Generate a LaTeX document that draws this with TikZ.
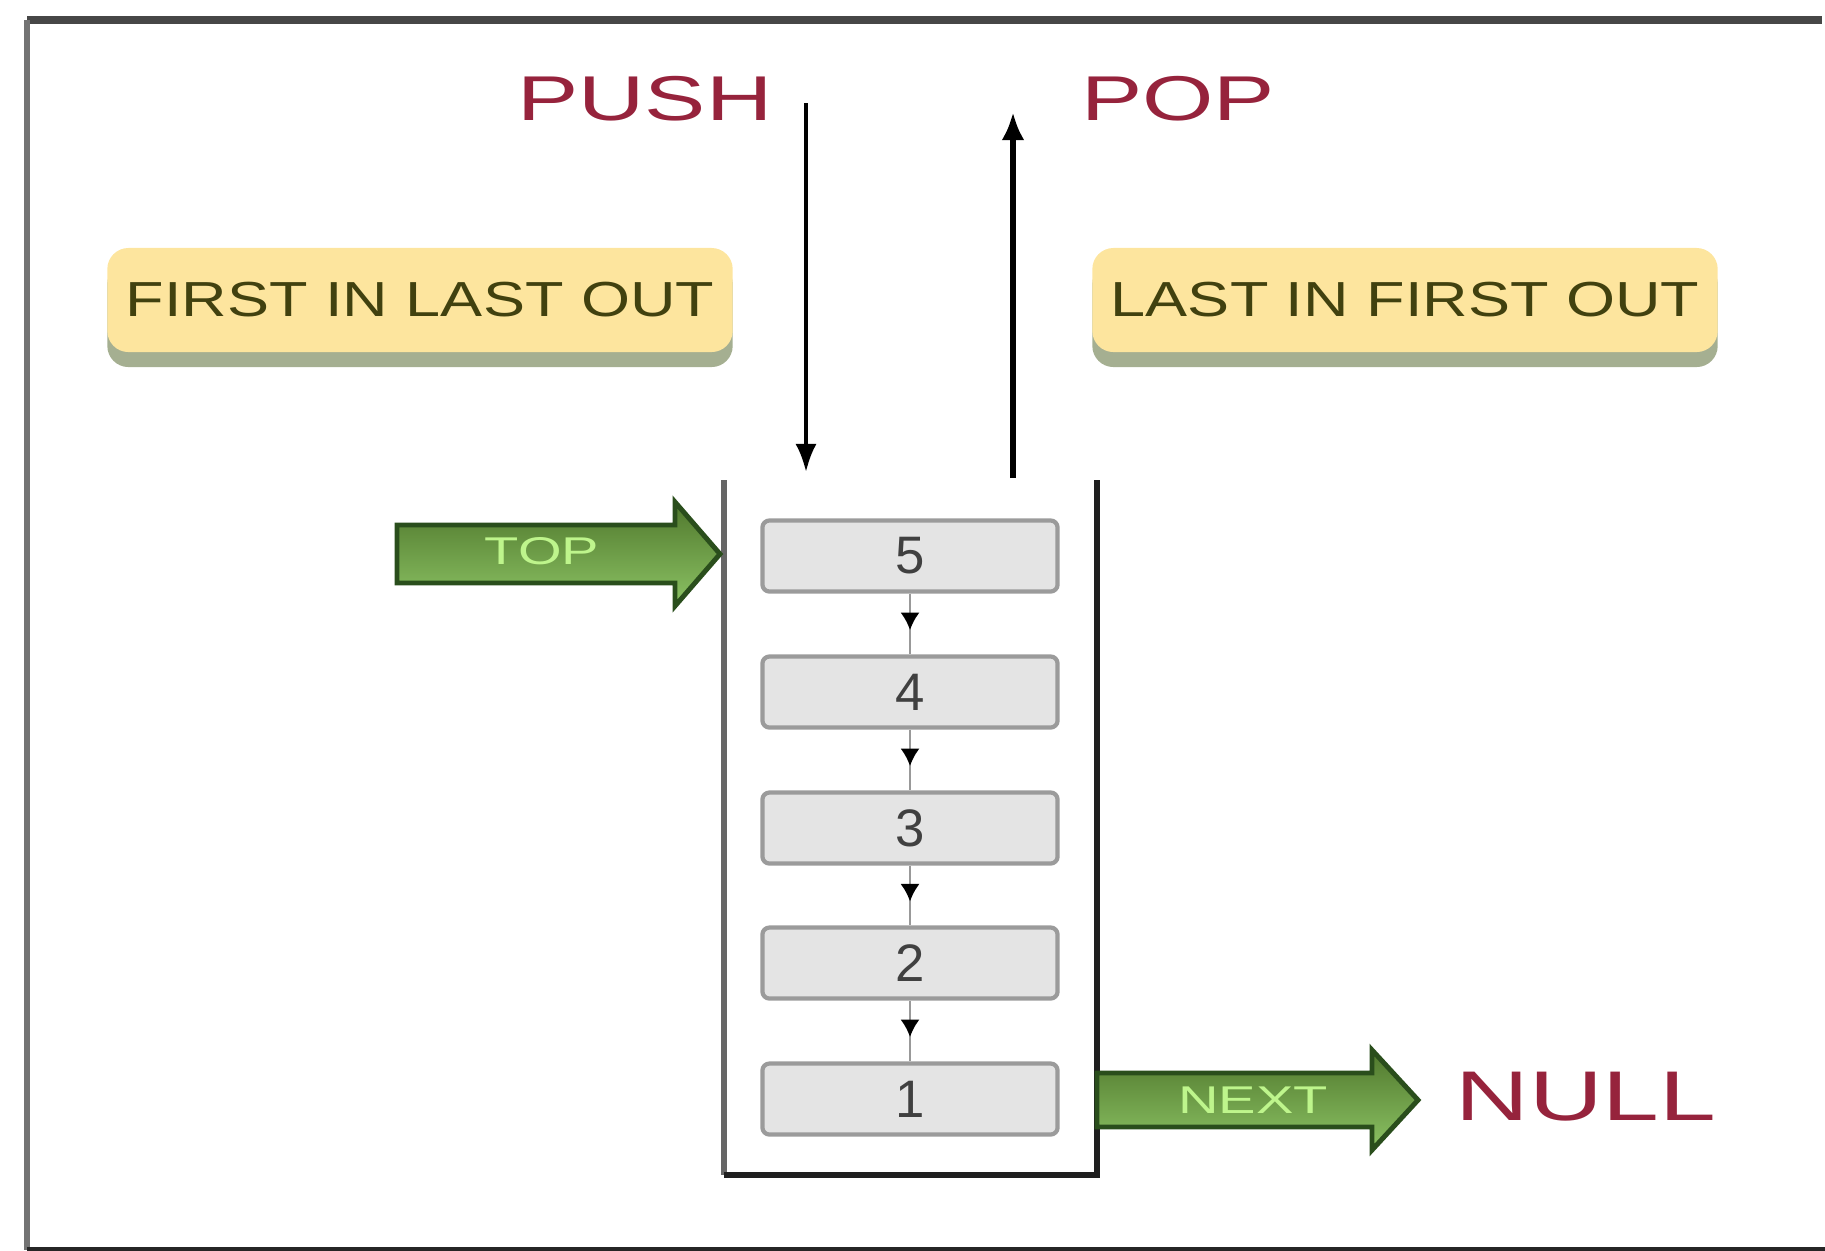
\documentclass[tikz,border=0pt]{standalone}
\usepackage{fontspec}
\setmainfont{Liberation Sans}
\newfontfamily\widefont[FakeStretch=1.45]{Liberation Sans}
\newfontfamily\notefont[FakeStretch=1.28]{Liberation Sans}
\usetikzlibrary{arrows.meta,shadows,decorations.markings}

\definecolor{opred}{RGB}{150,35,60}
\definecolor{notefill}{RGB}{253,229,158}
\definecolor{noteshade}{RGB}{165,175,145}
\definecolor{notetext}{RGB}{65,65,15}
\definecolor{cellfill}{RGB}{228,228,228}
\definecolor{cellline}{RGB}{155,155,155}
\definecolor{ptrdark}{RGB}{80,120,45}
\definecolor{ptrfill}{RGB}{118,182,66}
\definecolor{ptrlight}{RGB}{140,195,100}
\definecolor{ptrline}{RGB}{42,78,28}
\definecolor{ptrtext}{RGB}{190,245,140}

\tikzset{
  opname/.style={text=opred, font=\widefont\fontsize{18}{18}\selectfont, inner sep=0pt},
  note/.style={fill=notefill, rounded corners=6pt, minimum width=6.25cm, minimum height=1.04cm,
    text=notetext, font=\notefont\fontsize{14}{14}\selectfont,
    drop shadow={fill=noteshade, opacity=1, shadow xshift=0cm, shadow yshift=-0.15cm}},
  cell/.style={draw=cellline, fill=cellfill, line width=1.2pt, rounded corners=2pt,
    minimum width=2.95cm, minimum height=0.71cm, inner sep=0pt, text=black!75,
    font=\fontsize{15}{15}\selectfont},
  link/.style={draw=gray!80, line width=0.8pt, postaction={decorate},
    decoration={markings, mark=at position 0.6 with {\arrow{Latex[length=5pt,width=5.5pt,color=black]}}}},
  ptr/.style={top color=ptrdark, middle color=ptrfill, bottom color=ptrlight,
    draw=ptrline, line width=1.4pt, line join=miter},
  ptrlabel/.style={text=ptrtext, font=\widefont\fontsize{11}{11}\selectfont, inner sep=0pt},
}

\begin{document}
\begin{tikzpicture}[x=0.01cm, y=-0.01cm]
    \useasboundingbox (0,0) rectangle (1825,1250);

    % Frame
    \draw[line width=2pt, black!72] (27,20) -- (1822,20);
    \draw[line width=1.7pt, black!55] (27,20) -- (27,1250);
    \draw[line width=1pt, black!85] (27,1249) -- (1825,1249);

    % Nodes
    \node[opname] (push) at (645,99) {PUSH};
    \node[opname] (pop) at (1178,99) {POP};

    \node[note] (filo) at (420,300) {FIRST IN LAST OUT};
    \node[note] (lifo) at (1405,300) {LAST IN FIRST OUT};

    \node[cell] (c5) at (910,556) {5};
    \node[cell] (c4) at (910,692) {4};
    \node[cell] (c3) at (910,828) {3};
    \node[cell] (c2) at (910,963) {2};
    \node[cell] (c1) at (910,1099) {1};

    \coordinate (pushfrom) at (806,103);
    \coordinate (pushto) at (806,472);
    \coordinate (popfrom) at (1013,478);
    \coordinate (popto) at (1013,112);
    \coordinate (toptip) at (720,554);
    \coordinate (nexttip) at (1418,1100);

    % Stack walls
    \draw[line width=1.6pt, black!60] (724,480) -- (724,1175);
    \draw[line width=1.6pt, black!88] (724,1175) -- (1097,1175) -- (1097,480);

    % Lines
    \draw[line width=1.1pt, -{Latex[length=8pt,width=6pt]}] (pushfrom) -- (pushto);
    \draw[line width=1.6pt, -{Latex[length=8pt,width=6.5pt]}] (popfrom) -- (popto);

    \draw[link] (c5) -- (c4);
    \draw[link] (c4) -- (c3);
    \draw[link] (c3) -- (c2);
    \draw[link] (c2) -- (c1);

    % Pointers
    \draw[ptr] (toptip) -- ++(-45,-52) -- ++(0,23) -- ++(-278,0) -- ++(0,58)
        -- ++(278,0) -- ++(0,23) -- cycle;
    \node[ptrlabel] (toplabel) at (542,551) {TOP};

    \draw[ptr] (nexttip) -- ++(-46,-50) -- ++(0,23) -- ++(-275,0) -- ++(0,54)
        -- ++(275,0) -- ++(0,23) -- cycle;
    \node[ptrlabel] (nextlabel) at (1253,1100) {NEXT};

    \node[opname, font=\widefont\fontsize{20}{20}\selectfont] (null) at (1586,1097) {NULL};
\end{tikzpicture}
\end{document}
